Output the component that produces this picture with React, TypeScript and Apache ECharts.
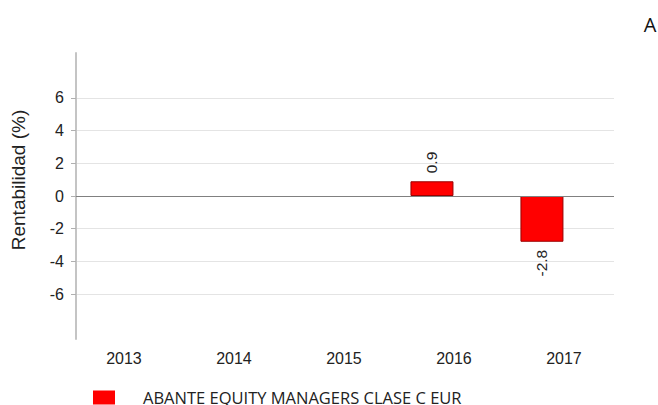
import React, { useEffect, useRef } from "react";
import * as echarts from "echarts";

const years = [2013, 2014, 2015, 2016, 2017];
const returns: (number | null)[] = [null, null, null, 0.9, -2.8];
const yTicks = [-6, -4, -2, 0, 2, 4, 6];
const seriesName = "ABANTE EQUITY MANAGERS CLASE C EUR";
const yAxisTitle = "Rentabilidad (%)";
const cornerMark = "A";

export default function App() {
  const ref = useRef<HTMLDivElement>(null);
  useEffect(() => {
    if (!ref.current) return;
    const chart = echarts.init(ref.current, null, { renderer: "svg" });
    const barData = years
      .map((y, i) => ({ y, v: returns[i] }))
      .filter((d) => d.v !== null)
      .map((d) => ({
        value: [d.y, d.v],
        label: {
          position: (d.v as number) >= 0 ? "top" : "bottom",
          align: (d.v as number) >= 0 ? "left" : "right",
          verticalAlign: "middle",
        },
      }));
    chart.setOption({
      animation: false,
      textStyle: { fontFamily: "Liberation Sans" },
      grid: { left: 76, right: 44, top: 53, bottom: 66, containLabel: false },
      xAxis: [
        {
          type: "value",
          show: false,
          min: 2012.764,
          max: 2017.655,
        },
        {
          type: "value",
          position: "bottom",
          min: 2012.564,
          max: 2017.455,
          axisLine: { show: false },
          axisTick: { show: false },
          splitLine: { show: false },
          axisLabel: {
            customValues: years,
            formatter: (v: number) => String(v),
            fontSize: 16,
            color: "#222",
            margin: 11,
            fontFamily: "Liberation Sans",
          },
        },
      ],
      yAxis: {
        type: "value",
        min: -8.75,
        max: 8.75,
        axisLine: { show: true, lineStyle: { color: "#c4c4c4", width: 2 } },
        axisTick: {
          show: true,
          customValues: yTicks,
          length: 5,
          lineStyle: { color: "#b0b0b0" },
        },
        axisLabel: {
          customValues: yTicks,
          fontSize: 16,
          color: "#222",
          margin: 12,
          fontFamily: "Liberation Sans",
        },
        splitLine: { show: true, lineStyle: { color: "#e4e4e4", width: 1 } },
      },
      legend: {
        left: 88,
        top: 384,
        itemWidth: 22,
        itemHeight: 14,
        icon: "rect",
        itemStyle: { borderWidth: 0 },
        textStyle: {
          fontFamily: "Open Sans",
          fontSize: 16.5,
          color: "#222",
          padding: [0, 0, 0, 23],
        },
        data: [seriesName],
      },
      graphic: [
        {
          type: "text",
          x: 18,
          y: 180,
          rotation: Math.PI / 2,
          style: {
            text: yAxisTitle,
            fontSize: 19,
            fontFamily: "Liberation Sans",
            fill: "#222",
            align: "center",
            verticalAlign: "middle",
          },
        },
        {
          type: "text",
          x: 650,
          y: 24,
          style: {
            text: cornerMark,
            fontSize: 20,
            fontFamily: "Open Sans",
            fill: "#111",
            align: "center",
            verticalAlign: "middle",
          },
        },
      ],
      series: [
        {
          name: seriesName,
          type: "bar",
          xAxisIndex: 0,
          barWidth: 43,
          itemStyle: { color: "#ff0000", borderColor: "#990000", borderWidth: 1 },
          label: {
            show: true,
            rotate: 90,
            distance: 8,
            fontSize: 15.5,
            color: "#222",
            fontFamily: "Liberation Sans",
          },
          data: barData,
          markLine: {
            silent: true,
            symbol: "none",
            label: { show: false },
            lineStyle: { color: "#808080", width: 1, type: "solid" },
            data: [{ yAxis: 0 }],
          },
        },
      ],
    });
    return () => chart.dispose();
  }, []);
  return (
    <div
      ref={ref}
      style={{ position: "fixed", left: 0, top: 0, width: 658, height: 405, background: "#fff" }}
    />
  );
}
